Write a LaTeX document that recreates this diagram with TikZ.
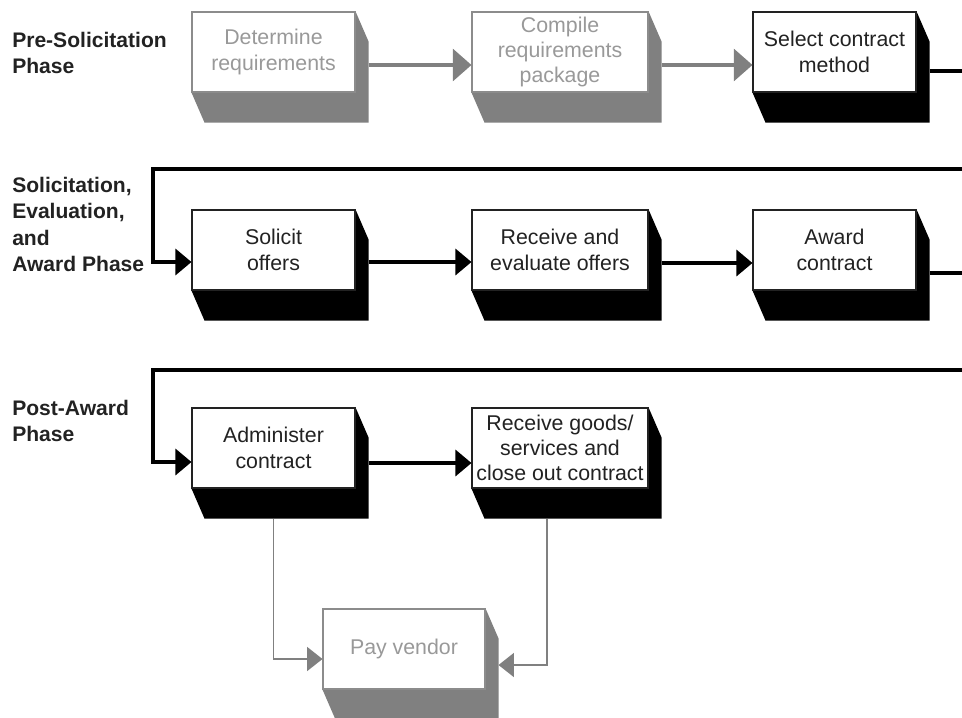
\documentclass[tikz,border=0pt]{standalone}
\usepackage{fontspec}
\setmainfont{Liberation Sans}
\usetikzlibrary{arrows.meta,calc,backgrounds}
\definecolor{shgray}{HTML}{808080}
\definecolor{txtgray}{HTML}{999999}
\definecolor{bdgray}{HTML}{8C8C8C}
\definecolor{ink}{HTML}{222222}
\newcommand\bxfont{\fontsize{16pt}{20pt}\selectfont}
\newcommand\bxfontc{\fontsize{16pt}{18.6pt}\selectfont}
\newcommand\phfont{\fontsize{15.8pt}{19.8pt}\selectfont\bfseries}
\newcommand\xshadow[2]{\fill[#2] (#1.north east) -- ($(#1.north east)+(13,30)$) -- ($(#1.south east)+(13,30)$) -- ($(#1.south west)+(13,30)$) -- (#1.south west) -- (#1.south east) -- cycle;}
\begin{document}
\begin{tikzpicture}[x=0.75pt,y=-0.75pt,
  basebox/.style={fill=white, line width=0.8pt, align=center, inner sep=0pt, minimum height=60pt, font=\bxfont},
  gbox/.style={basebox, draw=bdgray, text=txtgray},
  kbox/.style={basebox, draw=ink, text=ink},
  threeline/.style={font=\bxfontc},
  wa/.style={minimum width=122.25pt},
  wb/.style={minimum width=132pt},
  phase/.style={font=\phfont, align=left, anchor=north west, inner sep=0pt, text=ink},
  garrow/.style={draw=shgray, line width=2.4pt, -{Triangle[length=14pt,width=24pt]}},
  karrow/.style={draw=black, line width=2.4pt, -{Triangle[length=12pt,width=19.5pt]}},
  tarrow/.style={draw=shgray, line width=0.9pt, -{Triangle[length=11.5pt,width=18pt]}}
]
\clip (0,0) rectangle (962,717);

% phase labels
\node[phase] (L1) at (12,32) {Pre-Solicitation\\Phase};
\node[phase] (L2) at (12,177) {Solicitation,\\Evaluation,\\and\\Award Phase};
\node[phase] (L3) at (12,400) {Post-Award\\Phase};

% boxes
\node[gbox,wa] (A) at (273.5,52) {Determine\\requirements};
\node[gbox,wb,threeline] (B) at (560,52) {Compile\\requirements\\package};
\node[kbox,wa] (C) at (834.5,52) {Select contract\\method};
\node[kbox,wa] (D) at (273.5,250) {Solicit\\offers};
\node[kbox,wb] (E) at (560,250) {Receive and\\evaluate offers};
\node[kbox,wa] (F) at (834.5,250) {Award\\contract};
\node[kbox,wa] (G) at (273.5,448) {Administer\\contract};
\node[kbox,wb,threeline] (H) at (560,448) {Receive goods/\\services and\\close out contract};
\node[gbox,minimum width=121.5pt] (P) at (404,649) {Pay vendor};

\begin{scope}[on background layer]
\xshadow{A}{shgray}
\xshadow{B}{shgray}
\xshadow{C}{black}
\xshadow{D}{black}
\xshadow{E}{black}
\xshadow{F}{black}
\xshadow{G}{black}
\xshadow{H}{black}
\xshadow{P}{shgray}
\end{scope}

% off-page turning points
\coordinate (c1) at (990,71);
\coordinate (c2) at (990,169);
\coordinate (c3) at (990,273);
\coordinate (c4) at (990,370);

% connectors
\draw[garrow] ($(A.east)+(13,13)$) -- ($(B.west)+(0,13)$);
\draw[garrow] ($(B.east)+(13,13)$) -- ($(C.west)+(0,13)$);
\draw[karrow] ($(C.east)+(13,19)$) -- (c1) -- (c2) -- (153,169) |- ($(D.west)+(0,12)$);
\draw[karrow] ($(D.east)+(13,12)$) -- ($(E.west)+(0,12)$);
\draw[karrow] ($(E.east)+(13,13)$) -- ($(F.west)+(0,13)$);
\draw[karrow] ($(F.east)+(13,23)$) -- (c3) -- (c4) -- (153,370) |- ($(G.west)+(0,14)$);
\draw[karrow] ($(G.east)+(13,15)$) -- ($(H.west)+(0,15)$);
\draw[tarrow] ($(G.south)+(0,30)$) |- ($(P.west)+(0,10)$);
\draw[tarrow] ($(H.south)+(-13,30)$) |- ($(P.east)+(13,16)$);
\end{tikzpicture}
\end{document}
